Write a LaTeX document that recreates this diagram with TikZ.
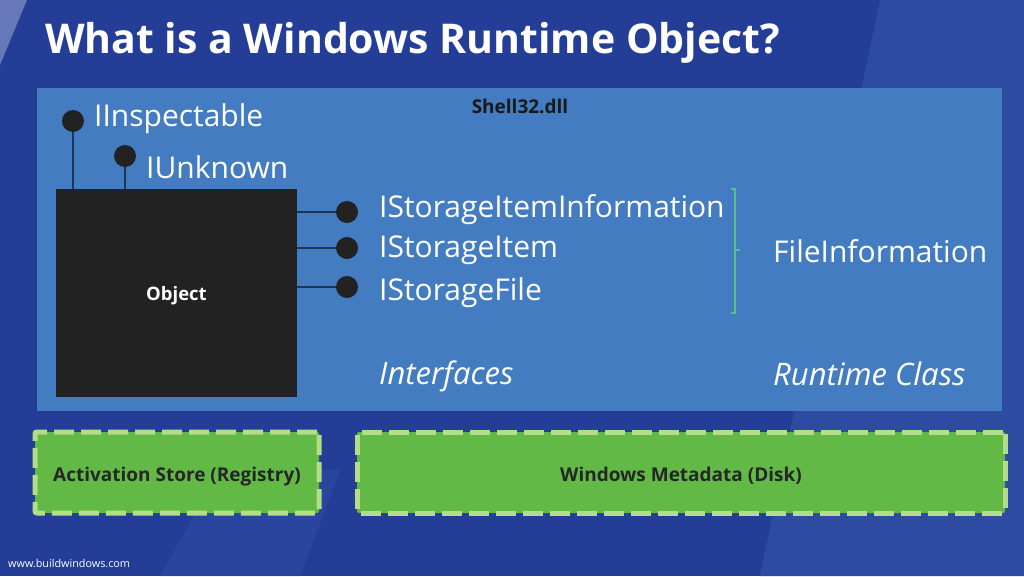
\documentclass[tikz,border=0pt]{standalone}
\usepackage{fontspec}
\setmainfont{Open Sans}
\definecolor{bgblue}{HTML}{243E98}
\definecolor{bgstripe}{HTML}{2E4BA2}
\definecolor{panel}{HTML}{437CC0}
\definecolor{objblack}{HTML}{222222}
\definecolor{boxgreen}{HTML}{62B946}
\definecolor{dashgreen}{HTML}{B4DD8B}
\definecolor{bracegreen}{HTML}{58C08A}
\definecolor{wire}{HTML}{1E3558}
\begin{document}
\begin{tikzpicture}[x=1pt,y=-1pt,
  lolli/.style={circle,fill=objblack,minimum size=22pt,inner sep=0pt},
  wirestyle/.style={draw=wire,line width=1.2pt},
  iface/.style={text=white,font=\fontsize{30}{32}\selectfont,anchor=west,inner sep=0pt},
  italiclabel/.style={iface,font=\fontsize{31}{33}\selectfont\itshape},
  storebox/.style={fill=boxgreen,draw=dashgreen,line width=5pt,dash pattern=on 20pt off 7pt,rounded corners=2pt,
     font=\fontsize{19}{22}\selectfont\bfseries,text=black!85,text height=17pt,text depth=0pt}
]
\useasboundingbox (0,0) rectangle (1024,576);
\fill[bgblue] (0,0) rectangle (1024,576);
% background stripes
\fill[white,opacity=0.3] (0,0) -- (27,0) -- (0,65) -- cycle;
\fill[bgstripe] (880,0) -- (1024,0) -- (1024,576) -- (760,576) -- cycle;
\fill[bgstripe,opacity=0.6] (160,576) -- (300,576) -- (340,470) -- (220,470) -- cycle;
% title
\node[anchor=west,text=white,font=\fontsize{41}{45}\selectfont\bfseries,inner sep=0pt] (title) at (45,43) {What is a Windows Runtime Object?};
% panel
\fill[panel] (37,88) rectangle (1002,411);
\node[font=\fontsize{19}{21}\selectfont\bfseries,text=black!90,inner sep=0pt] (shell) at (520,106) {Shell32.dll};
% object
\node[fill=objblack,minimum width=241pt,minimum height=208pt,inner sep=0pt,text=white,font=\fontsize{18.5}{20}\selectfont\bfseries,text height=14pt,text depth=0pt] (obj) at (176.5,293) {Object};
% top lollipops
\node[lolli] (insp) at (73,121) {};
\node[lolli] (unk) at (125,156) {};
\draw[wirestyle] (insp) -- (insp |- obj.north);
\draw[wirestyle] (unk) -- (unk |- obj.north);
\node[iface] (tinsp) at (94,119) {IInspectable};
\node[iface] (tunk) at (146,167) {IUnknown};
% right lollipops
\node[lolli] (sii) at (347,212) {};
\node[lolli] (si) at (347,248) {};
\node[lolli] (sf) at (347,287) {};
\draw[wirestyle] (sii) -- (sii -| obj.east);
\draw[wirestyle] (si) -- (si -| obj.east);
\draw[wirestyle] (sf) -- (sf -| obj.east);
\node[iface] (tsii) at (379,210) {IStorageItemInformation};
\node[iface] (tsi) at (379,250) {IStorageItem};
\node[iface] (tsf) at (379,293) {IStorageFile};
% bracket
\coordinate (btop) at (735,189);
\coordinate (bbot) at (735,313);
\draw[bracegreen,line width=1.4pt] ([xshift=-4pt]btop) -- (btop) -- (bbot) -- ([xshift=-4pt]bbot);
\coordinate (bmid) at (735,250);
\draw[bracegreen,line width=1.4pt] (bmid) -- ([xshift=5pt]bmid);
\node[iface] (fi) at (773,251) {FileInformation};
\node[italiclabel] (intf) at (379,376) {Interfaces};
\node[italiclabel] (rc) at (773,374) {Runtime Class};
% bottom boxes
\node[storebox,minimum width=284pt,minimum height=81pt] (act) at (177,472.5) {Activation Store (Registry)};
\node[storebox,minimum width=648pt,minimum height=81pt] (meta) at (681,472.5) {Windows Metadata (Disk)};
% footer
\node[anchor=west,text=white,font=\fontsize{10.8}{12}\selectfont,inner sep=0pt] (url) at (8,563) {www.buildwindows.com};
\end{tikzpicture}
\end{document}
